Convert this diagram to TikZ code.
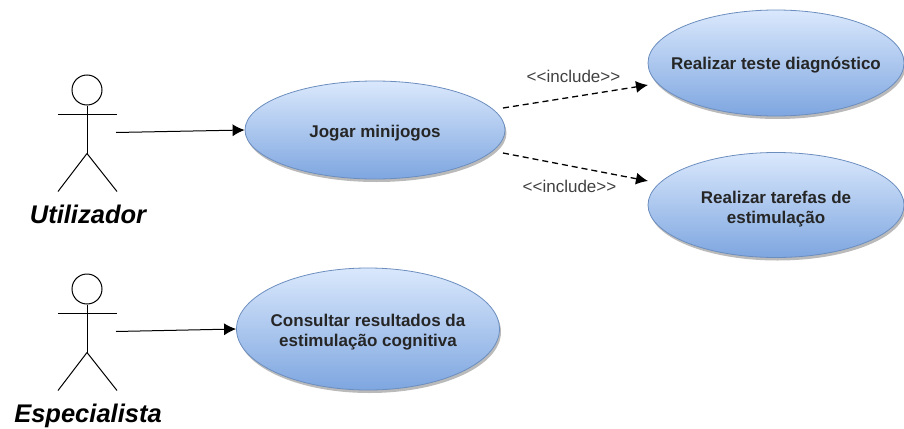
\documentclass[tikz,border=0pt]{standalone}
\usepackage{fontspec}
\setmainfont{Liberation Sans}
\usetikzlibrary{arrows.meta,shadows,shapes.geometric}
\definecolor{casotop}{HTML}{DAE8FC}
\definecolor{casobot}{HTML}{7EA6E0}
\definecolor{casoborda}{HTML}{6C8EBF}
\tikzset{
    caso/.style={ellipse,draw=casoborda,line width=.8pt,top color=casotop,bottom color=casobot,
        drop shadow={shadow xshift=1.5pt,shadow yshift=-3pt,fill=black!45,opacity=.6},inner sep=0pt},
    casotxt/.style={align=center,font=\fontsize{17}{20.5}\selectfont\bfseries,text=black!85,inner sep=0pt},
    ator/.style={font=\fontsize{25.5}{28}\selectfont\bfseries\itshape},
    inc/.style={font=\fontsize{17}{20}\selectfont,text=black!75,inner sep=0pt},
    seta/.style={-{Latex[length=12,width=12]}},
    inclui/.style={seta,line width=1.3pt,dash pattern=on 6pt off 4pt},
}
\begin{document}
\begin{tikzpicture}[x=1pt,y=-1pt,line width=1pt]
    \useasboundingbox (0,0) rectangle (904,428);
    % atores
    \foreach\nom/\y/\ty/\txt in {util/90/214/Utilizador,espec/289/416/Especialista}{
        \node[circle,draw,minimum size=30,inner sep=0pt] (\nom) at (87,\y){};
        \draw (\nom.south) -- +(0,48) coordinate(\nom-hip);
        \draw ([yshift=-9]\nom.south) ++(-29,0) -- +(59,0);
        \draw (\nom-hip) -- +(-29,38) (\nom-hip) -- +(30,38);
        \node[ator] (\nom-txt) at (88,\ty){\txt};
    }
    % casos
    \node[caso,minimum width=260,minimum height=98] (jogar) at (375,130){};
    \node[caso,minimum width=256,minimum height=106] (teste) at (776,63){};
    \node[caso,minimum width=256,minimum height=105] (tarefas) at (776,205){};
    \node[caso,minimum width=263,minimum height=122] (result) at (368,329){};
    \node[casotxt] (jogar-txt) at ([yshift=-3]jogar.center){Jogar minijogos};
    \node[casotxt] (teste-txt) at ([yshift=-2]teste.center){Realizar teste diagnóstico};
    \node[casotxt] (tarefas-txt) at ([yshift=-4]tarefas.center){Realizar tarefas de\\estimulação};
    \node[casotxt] (result-txt) at ([yshift=-3]result.center){Consultar resultados da\\estimulação cognitiva};
    % ligacoes
    \draw[seta] ([shift={(29,42.5)}]util.center) -- (jogar.west);
    \draw[seta] ([shift={(29,42.5)}]espec.center) -- (result.west);
    \draw[inclui] ([shift={(128,-22)}]jogar.center) -- node[inc,xshift=-2,yshift=20] (inc1){<{}<include>{}>} ([shift={(-128,22)}]teste.center);
    \draw[inclui] ([shift={(128,23)}]jogar.center) -- node[inc,xshift=-6,yshift=-19] (inc2){<{}<include>{}>} ([shift={(-128,-24)}]tarefas.center);
\end{tikzpicture}
\end{document}
